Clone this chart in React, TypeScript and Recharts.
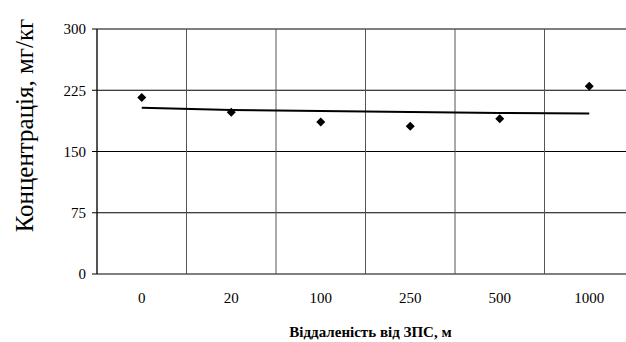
import React from 'react';
import { ComposedChart, XAxis, YAxis, CartesianGrid, Line, Scatter, Label } from 'recharts';

const categories = ['0', '20', '100', '250', '500', '1000'];
const concentration = [216, 198, 186, 181, 190, 230];
const trend = [203.6, 200.8, 199.5, 198.4, 197.2, 196.6];
const yTicks = [0, 75, 150, 225, 300];
const boundaryTicks = [-0.5, 0.5, 1.5, 2.5, 3.5, 4.5, 5.5];
const centerTicks = categories.map((_, i) => i);

const data = categories.map((c, i) => ({ x: i, cat: c, value: concentration[i], trend: trend[i] }));

const FONT = 'Liberation Serif, Times New Roman, serif';

const Diamond = (props: any) => {
  const { cx, cy } = props;
  if (cx == null || cy == null) return null;
  const r = 4.5;
  return <polygon points={`${cx},${cy - r} ${cx + r},${cy} ${cx},${cy + r} ${cx - r},${cy}`} fill="#000" />;
};

const YLabel = (props: any) => {
  const vb = props.viewBox || {};
  const x = vb.x + 24;
  const y = vb.y + vb.height / 2 - 26;
  return (
    <text x={x} y={y} transform={`rotate(-90, ${x}, ${y})`} textAnchor="middle" dominantBaseline="central"
      style={{ fontFamily: FONT, fontSize: 25 }} fill="#000">
      Концентрація, мг/кг
    </text>
  );
};

export default function App() {
  return (
    <div style={{ position: 'absolute', left: 0, top: 0, fontFamily: FONT }}>
      <ComposedChart width={626} height={342} data={data} margin={{ top: 29, right: -8, left: 0, bottom: 0 }}
        style={{ fontFamily: FONT }}>
        <CartesianGrid xAxisId="b" vertical={false} stroke="#000" strokeWidth={1} />
        <CartesianGrid xAxisId="b" horizontal={false} stroke="#555" strokeWidth={1} />
        <XAxis xAxisId="b" type="number" dataKey="x" domain={[-0.5, 5.5]} ticks={boundaryTicks}
          tickFormatter={() => ''} tickSize={5} height={0} stroke="#000" axisLine={{ stroke: '#000' }}
          tickLine={{ stroke: '#000' }} allowDataOverflow />
        <XAxis xAxisId="a" type="number" dataKey="x" domain={[-0.5, 5.5]} ticks={centerTicks}
          tickFormatter={(v: number) => categories[v] ?? ''} tickLine={false} axisLine={false}
          tickSize={0} tickMargin={18} height={68} interval={0}
          tick={{ fill: '#000', fontSize: 15, style: { fontFamily: FONT } }} allowDataOverflow>
          <Label value="Віддаленість від ЗПС, м" position="insideBottom" offset={5} dx={5}
            style={{ fontWeight: 'bold', fontSize: 15, fill: '#000', fontFamily: FONT }} />
        </XAxis>
        <YAxis domain={[0, 300]} ticks={yTicks} width={97} tickSize={5} tickMargin={6}
          axisLine={{ stroke: '#000' }} tickLine={{ stroke: '#000' }}
          tick={{ fill: '#000', fontSize: 15, style: { fontFamily: FONT } }} interval={0}>
          <Label content={<YLabel />} />
        </YAxis>
        <Line xAxisId="a" dataKey="trend" stroke="#000" strokeWidth={2} dot={false} isAnimationActive={false} />
        <Scatter xAxisId="a" dataKey="value" shape={<Diamond />} isAnimationActive={false} />
      </ComposedChart>
    </div>
  );
}
